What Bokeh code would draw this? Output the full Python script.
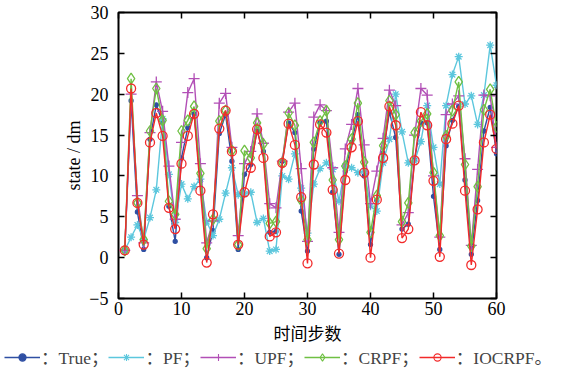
from bokeh.plotting import figure
from bokeh.models import Range1d, LinearAxis, Legend, LegendItem, FixedTicker
from bokeh.layouts import column
from bokeh.embed import file_html
from bokeh.resources import INLINE

steps = list(range(1, 61))
true_vals = [0.9, 19.2, 5.6, 1.0, 14.5, 18.7, 16.5, 6.3, 2.0, 12.2,
             15.9, 17.6, 9.4, 0.0, 3.3, 15.2, 17.5, 11.8, 1.0, 10.2,
             11.4, 15.5, 13.0, 3.1, 3.2, 11.8, 16.5, 15.3, 5.7, 0.8,
             13.3, 16.5, 16.7, 8.0, 0.4, 10.6, 14.1, 17.5, 10.0, 1.6,
             7.0, 12.8, 17.8, 14.7, 3.5, 4.1, 12.0, 16.5, 16.5, 7.5,
             1.0, 13.7, 16.8, 18.5, 9.5, 0.4, 7.0, 15.5, 18.4, 12.7]
pf_vals = [0.9, 2.5, 4.0, 2.2, 4.9, 8.3, 17.0, 10.2, 4.3, 9.0,
           7.2, 8.7, 9.6, 4.4, 2.7, 4.7, 7.9, 11.0, 7.7, 7.8,
           8.0, 4.3, 4.8, 0.8, 1.0, 10.0, 9.6, 12.7, 8.5, 3.0,
           9.0, 10.9, 11.6, 10.8, 6.9, 11.2, 11.0, 10.4, 10.6, 6.3,
           5.7, 11.6, 14.5, 20.0, 15.4, 11.6, 11.8, 14.2, 18.6, 13.5,
           9.0, 18.6, 22.4, 24.6, 18.8, 19.8, 16.3, 19.9, 26.0, 21.1]
upf_vals = [0.9, 20.0, 7.6, 1.8, 15.3, 21.5, 17.9, 11.2, 4.7, 14.1,
            20.2, 21.9, 11.5, 1.8, 4.5, 18.9, 20.1, 13.5, 2.7, 11.5,
            13.0, 17.6, 14.0, 6.6, 6.1, 11.8, 17.8, 18.9, 10.9, 2.0,
            17.2, 18.7, 18.0, 11.0, 3.1, 13.3, 16.3, 20.7, 13.8, 6.6,
            10.6, 14.6, 20.5, 18.6, 4.0, 5.5, 15.0, 20.7, 19.9, 10.0,
            2.5, 17.5, 18.8, 19.8, 12.1, 1.5, 10.8, 19.9, 19.8, 13.5]
crpf_vals = [0.9, 21.9, 6.7, 2.2, 15.5, 20.7, 16.8, 6.9, 5.3, 15.5,
             16.8, 18.5, 10.3, 1.1, 4.7, 16.7, 18.0, 13.1, 1.6, 13.1,
             12.2, 16.5, 13.9, 4.2, 4.4, 11.6, 17.7, 16.2, 7.0, 2.2,
             14.1, 16.7, 18.0, 9.5, 2.2, 11.2, 14.5, 18.9, 11.7, 3.1,
             7.6, 13.7, 19.2, 17.5, 4.4, 6.7, 15.3, 16.7, 17.6, 10.4,
             2.7, 14.9, 18.0, 21.5, 11.4, 1.4, 8.7, 18.1, 20.6, 16.0]
iocrpf_vals = [0.9, 20.7, 6.7, 1.6, 14.1, 17.7, 14.9, 6.1, 3.5, 11.5,
               14.9, 17.6, 8.2, -0.6, 5.3, 15.8, 18.0, 13.0, 1.6, 8.0,
               11.0, 15.7, 12.2, 2.6, 3.1, 11.6, 16.4, 13.8, 7.4, -0.7,
               11.4, 16.3, 15.3, 8.3, 0.5, 9.5, 13.5, 16.7, 10.4, 0.0,
               7.1, 12.2, 18.5, 16.2, 2.4, 3.5, 11.9, 17.8, 16.2, 9.4,
               0.1, 14.5, 16.4, 18.6, 8.2, -0.9, 5.9, 14.1, 17.5, 13.3]
legend_labels = ["：True；", "：PF；", "：UPF；", "：CRPF；", "：IOCRPF。"]
x_ticks = [0, 10, 20, 30, 40, 50, 60]
y_ticks = [-5, 0, 5, 10, 15, 20, 25, 30]

SERIF = "Liberation Serif, Noto Sans CJK SC"
W = 571
LEG_H = 24

p = figure(width=W, height=371 - LEG_H, x_range=Range1d(0, 60), y_range=Range1d(-5, 30),
           output_backend="svg", toolbar_location=None,
           min_border_left=118, min_border_right=75, min_border_top=12,
           min_border_bottom=40)
p.background_fill_color = "white"
p.border_fill_color = "white"
p.grid.visible = False
p.outline_line_color = "black"
p.outline_line_width = 2
p.outline_line_alpha = 1.0

for ax in (p.xaxis[0], p.yaxis[0]):
    ax.axis_line_color = None
    ax.major_tick_in = 6
    ax.major_tick_out = 0
    ax.minor_tick_line_color = None
    ax.major_tick_line_width = 1.5
    ax.major_label_text_font = SERIF
    ax.major_label_text_font_size = "18px"
    ax.major_label_text_color = "black"
    ax.axis_label_text_font_style = "normal"
    ax.axis_label_text_color = "black"

p.xaxis.ticker = FixedTicker(ticks=x_ticks)
p.yaxis.ticker = FixedTicker(ticks=y_ticks)
p.xaxis.axis_label = "时间步数"
p.xaxis.axis_label_text_font = "Noto Sans CJK SC"
p.xaxis.axis_label_text_font_size = "17px"
p.xaxis.axis_label_standoff = 2
p.xaxis.major_label_standoff = 3
p.yaxis.axis_label = "state / dm"
p.yaxis.axis_label_text_font = SERIF
p.yaxis.axis_label_text_font_size = "18px"
p.yaxis.axis_label_standoff = 2
p.yaxis.major_label_standoff = 10

top_ax = LinearAxis(ticker=FixedTicker(ticks=x_ticks), major_label_text_font_size="0px",
                    major_label_text_color=None,
                    major_tick_in=6, major_tick_out=0, axis_line_color=None,
                    minor_tick_line_color=None, major_tick_line_width=1.5,
                    major_label_standoff=0)
right_ax = LinearAxis(ticker=FixedTicker(ticks=y_ticks), major_label_text_font_size="0px",
                      major_label_text_color=None,
                      major_tick_in=6, major_tick_out=0, axis_line_color=None,
                      minor_tick_line_color=None, major_tick_line_width=1.5,
                      major_label_standoff=0)
p.add_layout(top_ax, "above")
p.add_layout(right_ax, "right")

series = [
    (true_vals, "#2f4fa3", "circle", 4, True),
    (pf_vals, "#5cc7dd", "asterisk", 8, False),
    (upf_vals, "#b24fb6", "cross", 11, False),
    (crpf_vals, "#6fc043", "diamond", 11, False),
    (iocrpf_vals, "#f22a2a", "circle", 9, False),
]

# legend strip below the chart (its renderers lie outside its visible range)
lf = figure(width=W, height=LEG_H, x_range=Range1d(1000, 1001), y_range=Range1d(1000, 1001),
            output_backend="svg", toolbar_location=None, x_axis_type=None, y_axis_type=None,
            min_border_left=0, min_border_right=0, min_border_top=0, min_border_bottom=0)
lf.outline_line_color = None
lf.grid.visible = False
lf.background_fill_color = "white"
lf.border_fill_color = "white"

items = []
for (vals, col, mk, sz, filled), lab in zip(series, legend_labels):
    p.line(steps, vals, line_color=col, line_width=1.4)
    fc = col if filled else None
    p.scatter(steps, vals, marker=mk, size=sz, line_color=col, fill_color=fc, line_width=1.3)
    ll = lf.line(steps, vals, line_color=col, line_width=1.3)
    ls = lf.scatter(steps, vals, marker=mk, size=min(sz, 6), line_color=col, fill_color=fc,
                    line_width=1.1)
    items.append(LegendItem(label=lab, renderers=[ll, ls]))

legend = Legend(items=items, orientation="horizontal", location=(4, 2),
                glyph_width=36, glyph_height=18, label_standoff=1, spacing=0,
                padding=0, margin=0, border_line_color=None, background_fill_alpha=0,
                label_text_font=SERIF, label_text_font_size="17.5px",
                label_height=18)
lf.add_layout(legend, "center")

open("out.html", "w").write(file_html(column(p, column(lf, spacing=0), spacing=0), INLINE))
